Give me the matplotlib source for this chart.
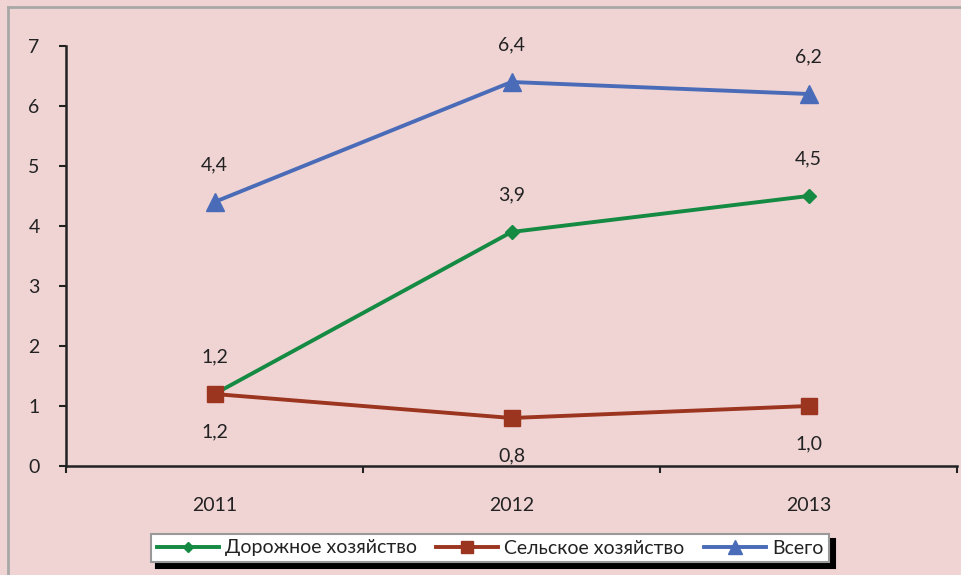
import numpy as np
import matplotlib.pyplot as plt
from matplotlib.lines import Line2D

# Data
years = ['2011', '2012', '2013']
road = [1.2, 3.9, 4.5]     # Дорожное хозяйство
agri = [1.2, 0.8, 1.0]     # Сельское хозяйство
total = [4.4, 6.4, 6.2]    # Всего
labels = ['Дорожное хозяйство', 'Сельское хозяйство', 'Всего']

plt.rcParams['font.family'] = ['Lato', 'DejaVu Sans']
bg = '#f0d4d4'
txt = '#222222'
fs = 14

fig = plt.figure(figsize=(9.61, 5.75), dpi=100, facecolor=bg)
ax = fig.add_axes([66 / 961, 1 - 466 / 575, (957 - 66) / 961, (466 - 46) / 575])
ax.set_facecolor(bg)

x = np.arange(len(years))
ax.plot(x, road, color='#148a42', lw=2.8, marker='D', ms=7, label=labels[0], zorder=3)
ax.plot(x, agri, color='#9b3520', lw=2.8, marker='s', ms=11, label=labels[1], zorder=4)
ax.plot(x, total, color='#4a6cb8', lw=2.8, marker='^', ms=13, label=labels[2], zorder=3)

# Data labels
for i in range(len(years)):
    ax.annotate(f'{total[i]:.1f}'.replace('.', ','), (x[i], total[i]), xytext=(0, 27),
                textcoords='offset points', ha='center', va='center', fontsize=fs, color=txt)
    ax.annotate(f'{road[i]:.1f}'.replace('.', ','), (x[i], road[i]), xytext=(0, 27),
                textcoords='offset points', ha='center', va='center', fontsize=fs, color=txt)
    ax.annotate(f'{agri[i]:.1f}'.replace('.', ','), (x[i], agri[i]), xytext=(0, -27),
                textcoords='offset points', ha='center', va='center', fontsize=fs, color=txt)

# Axes styling
ax.set_xlim(-0.5, 2.5)
ax.set_ylim(0, 7)
ax.set_yticks(range(8))
ax.set_xticks([-0.5, 0.5, 1.5, 2.5])
ax.set_xticklabels([])
ax.set_xticks(x, minor=True)
ax.set_xticklabels(years, minor=True)
ax.tick_params(axis='x', which='minor', length=0, pad=22, labelsize=fs, labelcolor=txt)
ax.tick_params(axis='x', which='major', length=5, width=1.5, direction='out', color=txt)
ax.tick_params(axis='y', length=5, width=1.5, direction='out', pad=14, labelsize=fs,
               labelcolor=txt, color=txt)
for s in ['top', 'right']:
    ax.spines[s].set_visible(False)
for s in ['left', 'bottom']:
    ax.spines[s].set_linewidth(1.8)
    ax.spines[s].set_color(txt)

# Legend with black shadow
leg = fig.legend(loc='center', bbox_to_anchor=(490 / 961, 1 - 548 / 575), ncol=3,
                 fontsize=fs, frameon=True, fancybox=False, handlelength=3.2,
                 handletextpad=0.3, columnspacing=1.0, borderpad=0.3, markerscale=0.8,
                 shadow={'ox': 4, 'oy': -4, 'color': 'black', 'alpha': 1})
leg.get_frame().set_edgecolor('#999999')
leg.get_frame().set_linewidth(1.5)
for t in leg.get_texts():
    t.set_color(txt)

# Outer chart border
fig.add_artist(Line2D([8 / 961, 8 / 961], [0, 1 - 7 / 575], transform=fig.transFigure,
                      color='#a8a8a8', lw=2))
fig.add_artist(Line2D([8 / 961, 1], [1 - 7 / 575, 1 - 7 / 575], transform=fig.transFigure,
                      color='#a8a8a8', lw=2))

fig.savefig('out.png', dpi=100, facecolor=bg)
